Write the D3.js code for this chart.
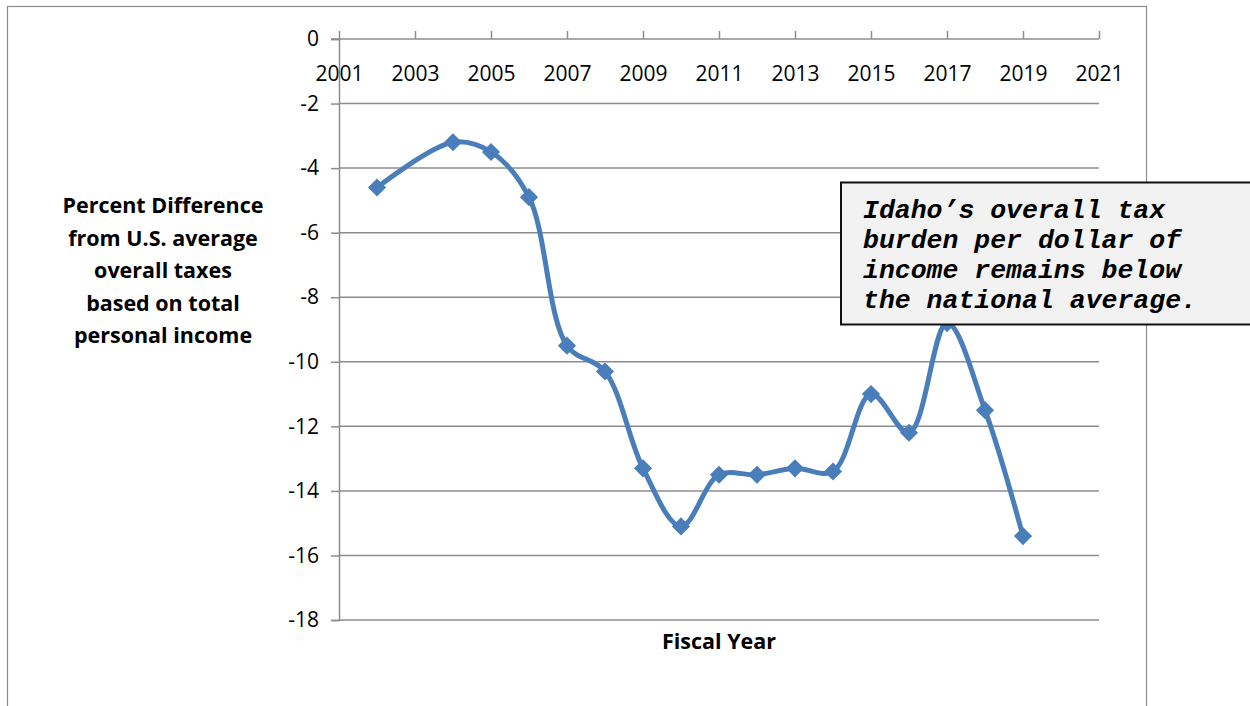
<!DOCTYPE html>
<html>
<head>
<meta charset="utf-8">
<script src="https://cdn.jsdelivr.net/npm/d3@7"></script>
<style>
  body { margin: 0; background: #fff; }
  svg { display: block; }
</style>
</head>
<body>
<svg id="chart" width="1250" height="706"></svg>
<script>
// values
const years = [2002, 2004, 2005, 2006, 2007, 2008, 2009, 2010, 2011, 2012, 2013, 2014, 2015, 2016, 2017, 2018, 2019]
const pctDiff = [-4.6, -3.2, -3.5, -4.9, -9.5, -10.3, -13.3, -15.1, -13.5, -13.5, -13.3, -13.4, -11.0, -12.2, -8.8, -11.5, -15.4]
const xTicks = [2001, 2003, 2005, 2007, 2009, 2011, 2013, 2015, 2017, 2019, 2021]
const yTicks = [0, -2, -4, -6, -8, -10, -12, -14, -16, -18]
const yTitle = ['Percent Difference', 'from U.S. average', 'overall taxes', 'based on total', 'personal income']
const note = ['Idaho\u2019s overall tax', 'burden per dollar of', 'income remains below', 'the national average.']

const svg = d3.select('#chart')
const font = '"Open Sans", "Noto Sans", sans-serif'

// outer chart frame
svg.append('rect')
    .attr('x', 7.5).attr('y', 6.5)
    .attr('width', 1139).attr('height', 720)
    .attr('fill', 'none')
    .attr('stroke', '#8c8c8c')
    .attr('stroke-width', 1.2)

const x = d3.scaleLinear().domain([2001, 2021]).range([339, 1099])
const y = d3.scaleLinear().domain([-18, 0]).range([620, 39])

// gridlines
svg.append('g')
    .selectAll('line')
    .data(yTicks.filter(d => d !== 0))
    .join('line')
    .attr('x1', x(2001)).attr('x2', x(2021))
    .attr('y1', d => y(d)).attr('y2', d => y(d))
    .attr('stroke', '#8c8c8c')
    .attr('stroke-width', 1.5)

// y axis
const yAxis = svg.append('g')
    .attr('transform', `translate(${x(2001)},0)`)
    .call(d3.axisLeft(y).tickValues(yTicks).tickSize(8).tickPadding(12).tickFormat(d => String(d)))
yAxis.select('.domain').attr('stroke', '#8c8c8c').attr('stroke-width', 1.5)
yAxis.selectAll('.tick line').attr('stroke', '#8c8c8c').attr('stroke-width', 1.5)
yAxis.selectAll('.tick text')
    .attr('font-family', font).attr('font-size', 21).attr('fill', '#000')

// x axis sitting on the zero line
const xAxis = svg.append('g')
    .attr('transform', `translate(0,${y(0)})`)
    .call(d3.axisTop(x).tickValues(xTicks).tickSize(8).tickFormat(d3.format('d')))
xAxis.select('.domain').remove()
xAxis.append('line')
    .attr('x1', x(2001) - 8).attr('x2', x(2021))
    .attr('stroke', '#8c8c8c').attr('stroke-width', 1.5)
xAxis.selectAll('.tick line').attr('stroke', '#8c8c8c').attr('stroke-width', 1.5)
xAxis.selectAll('.tick text')
    .attr('y', 42)
    .attr('font-family', font).attr('font-size', 21).attr('fill', '#000')

// series
const pts = years.map((yr, i) => ({ yr: yr, v: pctDiff[i] }))
const line = d3.line()
    .x(d => x(d.yr))
    .y(d => y(d.v))
    .curve(d3.curveCatmullRom.alpha(0.5))

svg.append('path')
    .datum(pts)
    .attr('d', line)
    .attr('fill', 'none')
    .attr('stroke', '#4a7ebb')
    .attr('stroke-width', 5)

svg.append('g')
    .selectAll('path')
    .data(pts)
    .join('path')
    .attr('d', d3.symbol(d3.symbolSquare, 165))
    .attr('transform', d => `translate(${x(d.yr)},${y(d.v)}) rotate(45)`)
    .attr('fill', '#4a7ebb')

// y axis title
svg.append('text')
    .attr('text-anchor', 'middle')
    .attr('font-family', font).attr('font-weight', 'bold').attr('font-size', 21.5)
    .selectAll('tspan')
    .data(yTitle)
    .join('tspan')
    .attr('x', 163)
    .attr('y', (d, i) => 213 + i * 32.5)
    .text(d => d)

// x axis title
svg.append('text')
    .attr('x', 719).attr('y', 649)
    .attr('text-anchor', 'middle')
    .attr('font-family', font).attr('font-weight', 'bold').attr('font-size', 21.5)
    .text('Fiscal Year')

// callout box
svg.append('rect')
    .attr('x', 841).attr('y', 182.5)
    .attr('width', 430).attr('height', 142)
    .attr('fill', '#f2f2f2')
    .attr('stroke', '#111')
    .attr('stroke-width', 2)

svg.append('text')
    .attr('font-family', '"Liberation Mono", "DejaVu Sans Mono", monospace')
    .attr('font-weight', 'bold').attr('font-style', 'italic')
    .attr('font-size', 26.5)
    .attr('fill', '#000')
    .selectAll('tspan')
    .data(note)
    .join('tspan')
    .attr('x', 863)
    .attr('y', (d, i) => 218 + i * 30)
    .attr('xml:space', 'preserve')
    .text(d => d)
</script>
</body>
</html>
